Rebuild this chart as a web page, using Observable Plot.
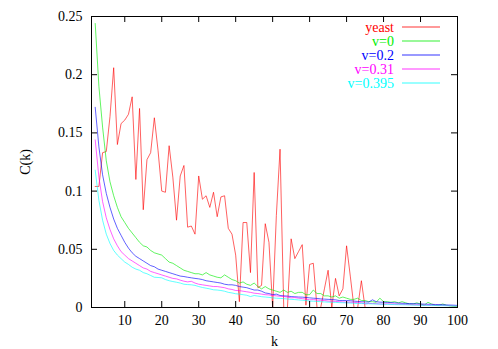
<!DOCTYPE html>
<html><head><meta charset="utf-8">
<script src="https://cdn.jsdelivr.net/npm/d3@7"></script>
<script src="https://cdn.jsdelivr.net/npm/@observablehq/plot@0.6"></script>
<style>
body{margin:0;background:#fff}
#wrap{position:relative;width:498px;height:349px}
#legend{position:absolute;left:0;top:0;pointer-events:none}
</style>
</head><body><div id="wrap"></div>
<script>
// k runs from kStart to 100
const kStart = 2;
const seriesNames = ["yeast", "v=0", "v=0.2", "v=0.31", "v=0.395"];
const seriesColors = ["#ff0000", "#00ee00", "#0000ff", "#ff00ff", "#00ffff"];

const yeast = [
  0.104,0.104,0.133,0.134,0.164,0.206,0.140,0.158,0.161,0.166,
  0.181,0.110,0.171,0.084,0.127,0.133,0.163,0.135,0.100,0.099,
  0.139,0.112,0.075,0.113,0.122,0.069,0.070,0.063,0.113,0.093,
  0.096,0.086,0.099,0.078,0.095,0.096,0.068,0.063,0.045,0.005,
  0.073,0.073,0.030,0.116,0.017,0.019,0.072,0.056,0,0.079,
  0.136,0,0,0.059,0.042,0.048,0.054,0.002,0.037,0.038,
  0,0,0.016,0.032,0,0.025,0.010,0.016,0.053,0.027,
  0,0,0.023,0,0,0,0,0,0,0,
  0,0,0,0,0,0,0,0,0,0,
  0,0,0,0,0,0,0,0,0
];
const nu0 = [
  0.244,0.190,0.155,0.126,0.108,0.096,0.086,0.078,0.073,0.068,
  0.064,0.060,0.056,0.053,0.052,0.049,0.047,0.046,0.045,0.042,
  0.039,0.038,0.036,0.034,0.032,0.031,0.030,0.029,0.029,0.028,
  0.030,0.028,0.027,0.026,0.0255,0.028,0.026,0.024,0.023,0.021,
  0.022,0.020,0.019,0.021,0.018,0.016,0.018,0.016,0.015,0.014,
  0.013,0.015,0.013,0.014,0.012,0.013,0.013,0.011,0.011,0.015,
  0.012,0.012,0.010,0.010,0.009,0.010,0.008,0.009,0.008,0.007,
  0.007,0.008,0.006,0.006,0.005,0.005,0.0045,0.008,0.005,0.005,
  0.0045,0.005,0.004,0.005,0.004,0.003,0.003,0.004,0.003,0.002,
  0.0045,0.003,0.002,0.002,0.003,0.002,0.0014,0.001,0.001
];
const nu02 = [
  0.172,0.138,0.114,0.098,0.086,0.076,0.068,0.062,0.056,0.051,
  0.047,0.044,0.042,0.040,0.038,0.036,0.035,0.033,0.032,0.031,
  0.030,0.029,0.028,0.027,0.0266,0.026,0.0255,0.025,0.0246,0.024,
  0.023,0.0225,0.022,0.0215,0.021,0.020,0.0195,0.0195,0.019,0.018,
  0.0175,0.017,0.016,0.015,0.015,0.014,0.0125,0.012,0.011,0.0115,
  0.0103,0.010,0.0098,0.0094,0.0092,0.009,0.0089,0.0086,0.0083,0.008,
  0.0078,0.0074,0.0072,0.007,0.0068,0.0066,0.006,0.006,0.006,0.0058,
  0.0055,0.0052,0.005,0.0048,0.0047,0.0066,0.005,0.0046,0.0045,0.0044,
  0.0042,0.004,0.0038,0.0036,0.0035,0.0034,0.0033,0.0032,0.003,0.0029,
  0.0028,0.0027,0.0026,0.0025,0.0024,0.0022,0.0021,0.002,0.0018
];
const nu031 = [
  0.144,0.112,0.091,0.077,0.067,0.059,0.053,0.048,0.045,0.042,
  0.040,0.038,0.036,0.034,0.033,0.031,0.030,0.029,0.028,0.027,
  0.026,0.025,0.0246,0.0235,0.0226,0.022,0.0225,0.021,0.020,0.0195,
  0.019,0.0185,0.018,0.018,0.0175,0.017,0.016,0.0155,0.0146,0.0145,
  0.014,0.0135,0.013,0.0123,0.012,0.0115,0.011,0.0108,0.0103,0.010,
  0.0097,0.0094,0.009,0.0083,0.0085,0.008,0.0076,0.0072,0.0066,0.0068,
  0.0064,0.0062,0.006,0.0055,0.0054,0.0052,0.005,0.0048,0.0046,0.0045,
  0.0044,0.0042,0.004,0.003,0.0035,0.0034,0.0033,0.003,0.003,0.0032,
  0.003,0.0029,0.0028,0.0027,0.0026,0.0025,0.0024,0.0023,0.0022,0.0021,
  0.002,0.002,0.0019,0.0018,0.0018,0.0017,0.0016,0.0015,0.0014
];
const nu0395 = [
  0.118,0.092,0.075,0.063,0.055,0.049,0.045,0.042,0.039,0.037,
  0.0346,0.033,0.032,0.030,0.029,0.0275,0.026,0.0258,0.0255,0.024,
  0.023,0.0223,0.0217,0.021,0.020,0.0197,0.0195,0.019,0.018,0.0172,
  0.0166,0.016,0.0152,0.015,0.0146,0.014,0.013,0.0125,0.0118,0.0115,
  0.011,0.0105,0.0094,0.0103,0.0098,0.0093,0.009,0.0087,0.0083,0.008,
  0.0078,0.0076,0.0073,0.007,0.0068,0.0065,0.0062,0.006,0.0055,0.0054,
  0.0052,0.005,0.0048,0.0046,0.0045,0.0044,0.0042,0.0041,0.004,0.0038,
  0.0036,0.0035,0.0034,0.0033,0.0032,0.0031,0.003,0.0029,0.0028,0.0027,
  0.0026,0.0025,0.0024,0.0024,0.0023,0.0022,0.0021,0.002,0.0019,0.0019,
  0.0018,0.0018,0.0017,0.0016,0.0016,0.0015,0.0015,0.0014,0.0014
];

const xTicks = [10, 20, 30, 40, 50, 60, 70, 80, 90, 100];
const yTicks = [0, 0.05, 0.1, 0.15, 0.2, 0.25];
const yTickLabels = ["0", "0.05", "0.1", "0.15", "0.2", "0.25"];

const allSeries = [yeast, nu0, nu02, nu031, nu0395];
const rows = [];
allSeries.forEach((arr, s) => arr.forEach((c, i) => rows.push({series: seriesNames[s], k: kStart + i, c})));

const W = 498, H = 349, mL = 91, mR = 41, mT = 16, mB = 42;
const fw = W - mL - mR, fh = H - mT - mB;
const tickLen = 6;
const lineOpacity = 0.62;
const font = "'Liberation Serif', 'Times New Roman', serif";

const chart = Plot.plot({
  width: W, height: H,
  marginLeft: mL, marginRight: mR, marginTop: mT, marginBottom: mB,
  style: {fontFamily: font, fontSize: "14px", color: "#000", background: "#fff", overflow: "visible"},
  x: {domain: [1, 100]},
  y: {domain: [0, 0.25]},
  color: {domain: seriesNames, range: seriesColors},
  marks: [
    Plot.line(rows, {x: "k", y: "c", z: "series", stroke: "series", strokeWidth: 1, strokeOpacity: lineOpacity}),
    Plot.tickX(xTicks, {x: d => d, insetTop: fh - tickLen, stroke: "#000"}),
    Plot.tickX(xTicks, {x: d => d, insetBottom: fh - tickLen, stroke: "#000"}),
    Plot.tickY(yTicks, {y: d => d, insetRight: fw - tickLen, stroke: "#000"}),
    Plot.tickY(yTicks, {y: d => d, insetLeft: fw - tickLen, stroke: "#000"}),
    Plot.axisX(xTicks, {anchor: "bottom", tickSize: 0, tickPadding: 8, label: "k", labelAnchor: "center", labelOffset: 38, labelArrow: "none"}),
    Plot.axisY(yTicks, {anchor: "left", tickSize: 0, tickPadding: 9, tickFormat: d => yTickLabels[yTicks.indexOf(d)], label: "C(k)", labelAnchor: "center", labelOffset: 71, labelArrow: "none"}),
    Plot.frame({stroke: "#000"})
  ]
});
const wrap = document.getElementById("wrap");
wrap.appendChild(chart);

// legend overlay (top-right, inside the frame)
const leg = d3.select(wrap).append("svg").attr("id", "legend").attr("width", W).attr("height", H);
const legTextX = 394, legLineX1 = 402, legLineX2 = 440, legY0 = 27, legDy = 14;
seriesNames.forEach((name, i) => {
  const y = legY0 + i * legDy;
  leg.append("text").attr("x", legTextX).attr("y", y).attr("dy", "0.35em")
    .attr("text-anchor", "end").attr("font-family", font).attr("font-size", 14)
    .attr("fill", seriesColors[i]).text(name);
  leg.append("line").attr("x1", legLineX1).attr("x2", legLineX2).attr("y1", y).attr("y2", y)
    .style("stroke", seriesColors[i]).style("stroke-width", "1.2px").style("stroke-opacity", 0.8);
});
</script>
</body></html>
